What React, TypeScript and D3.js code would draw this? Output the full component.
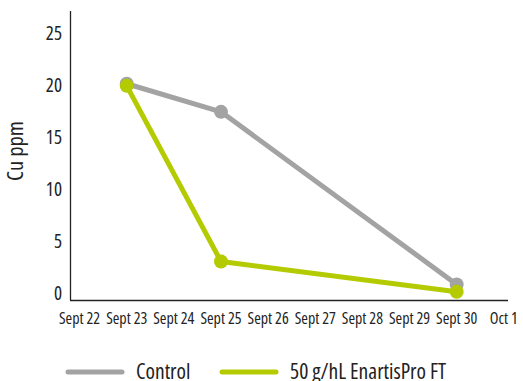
import React from "react";
import * as d3 from "d3";

const dates = ["Sept 22", "Sept 23", "Sept 24", "Sept 25", "Sept 26", "Sept 27", "Sept 28", "Sept 29", "Sept 30", "Oct 1"];
const yTicks = [0, 5, 10, 15, 20, 25];
const controlDates = ["Sept 23", "Sept 25", "Sept 30"];
const controlValues = [20.1, 17.4, 0.8];
const enartisDates = ["Sept 23", "Sept 25", "Sept 30"];
const enartisValues = [19.9, 3.0, 0.1];
const seriesNames = ["Control", "50 g/hL EnartisPro FT"];
const seriesColors = ["#a3a3a3", "#b3cb00"];

const W = 523, H = 381;
const FONT = "'Open Sans', sans-serif";

export default function App() {
  const x = d3.scalePoint<string>().domain(dates).range([79.6, 503.8]);
  const y = d3.scaleLinear().domain([-0.7, 27.1]).range([300, 11]);
  const line = d3.line<[string, number]>().x(d => x(d[0])!).y(d => y(d[1]));
  const series = [
    { data: controlDates.map((d, i) => [d, controlValues[i]] as [string, number]), color: seriesColors[0] },
    { data: enartisDates.map((d, i) => [d, enartisValues[i]] as [string, number]), color: seriesColors[1] },
  ];
  const textStyle: React.CSSProperties = { fontFamily: FONT, fontStretch: "condensed" };
  return (
    <svg width={W} height={H} style={{ position: "absolute", left: 0, top: 0 }}>
      <rect width={W} height={H} fill="#fff" />
      <line x1={70.5} x2={70.5} y1={11} y2={300} stroke="#222" strokeWidth={1.3} />
      <line x1={70} x2={508} y1={300.5} y2={300.5} stroke="#222" strokeWidth={1.3} />
      {yTicks.map(t => (
        <text key={t} x={62} y={y(t)} dy="0.36em" textAnchor="end" fontSize={19} fill="#222" style={textStyle}>{t}</text>
      ))}
      {dates.map(d => (
        <text key={d} x={x(d)} y={324} textAnchor="middle" fontSize={16} fill="#222" style={textStyle}>{d}</text>
      ))}
      <text transform="translate(23,151) rotate(-90)" textAnchor="middle" fontSize={22.5} fill="#222" style={textStyle}>Cu ppm</text>
      {series.map((s, i) => (
        <g key={i}>
          <path d={line(s.data)!} fill="none" stroke={s.color} strokeWidth={5} strokeLinejoin="round" />
          {s.data.map((p, j) => (
            <circle key={j} cx={x(p[0])} cy={y(p[1])} r={7} fill={s.color} />
          ))}
        </g>
      ))}
      {seriesNames.map((n, i) => {
        const lx = i === 0 ? 68 : 222;
        const tx = i === 0 ? 136 : 290;
        return (
          <g key={n}>
            <line x1={lx} x2={lx + 54} y1={372} y2={372} stroke={seriesColors[i]} strokeWidth={5} strokeLinecap="round" />
            <text x={tx} y={379} fontSize={21.5} fill="#222" style={textStyle}>{n}</text>
          </g>
        );
      })}
    </svg>
  );
}
